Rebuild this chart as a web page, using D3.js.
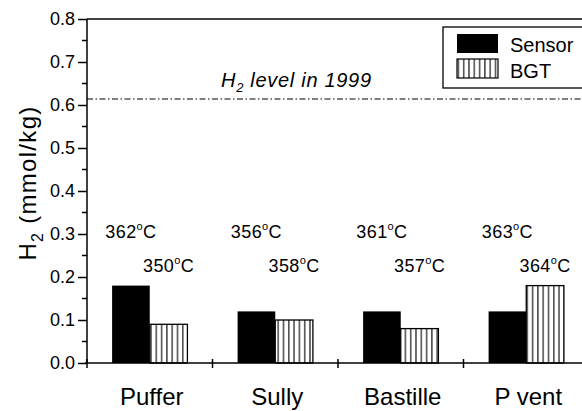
<!DOCTYPE html>
<html>
<head>
<meta charset="utf-8">
<script src="https://cdn.jsdelivr.net/npm/d3@7"></script>
<style>
  body { margin: 0; background: #fff; }
  svg { display: block; font-family: Arial, "Liberation Sans", sans-serif; }
</style>
</head>
<body>
<svg id="chart" width="582" height="411"></svg>
<script>
const categories = ["Puffer", "Sully", "Bastille", "P vent"];
const sensor = [0.18, 0.12, 0.12, 0.12];
const bgt = [0.09, 0.10, 0.08, 0.18];
const sensorTemp = [362, 356, 361, 363];
const bgtTemp = [350, 358, 357, 364];
const level1999 = 0.614;
const yTicks = [0, 0.1, 0.2, 0.3, 0.4, 0.5, 0.6, 0.7, 0.8];

const svg = d3.select("#chart");
const mLeft = 87, mRight = 589, mTop = 19, mBottom = 363;

const x = d3.scaleBand().domain(categories).range([mLeft, mRight]).paddingInner(0).paddingOuter(0);
const xb = d3.scaleLinear().domain([0, 4]).range([mLeft, mRight]);
const y = d3.scaleLinear().domain([0, 0.8]).range([mBottom, mTop]);
const bw = x.bandwidth() * 0.3;

// vertical hatch for BGT
const defs = svg.append("defs");
defs.append("pattern")
    .attr("id", "vhatch")
    .attr("patternUnits", "userSpaceOnUse")
    .attr("width", 5.3).attr("height", 10)
    .append("line")
    .attr("x1", 2.6).attr("x2", 2.6).attr("y1", 0).attr("y2", 10)
    .attr("stroke", "#000").attr("stroke-width", 1.1);

// bars
const g = svg.append("g");
categories.forEach(function(c, i) {
    const cx = x(c) + x.bandwidth() / 2;
    g.append("rect")
        .attr("x", cx - bw).attr("y", y(sensor[i]))
        .attr("width", bw).attr("height", y(0) - y(sensor[i]))
        .attr("fill", "#000");
    g.append("rect")
        .attr("x", cx).attr("y", y(bgt[i]))
        .attr("width", bw).attr("height", y(0) - y(bgt[i]))
        .attr("fill", "#fff");
    g.append("rect")
        .attr("x", cx).attr("y", y(bgt[i]))
        .attr("width", bw).attr("height", y(0) - y(bgt[i]))
        .attr("fill", "url(#vhatch)")
        .attr("stroke", "#000").attr("stroke-width", 1.3);

    // temperature labels
    const t1 = g.append("text")
        .attr("x", cx - bw / 2).attr("y", y(0.29))
        .attr("text-anchor", "middle").attr("font-size", 18)
        .attr("letter-spacing", 0.4);
    t1.append("tspan").text(sensorTemp[i]);
    t1.append("tspan").attr("font-size", 11).attr("dy", -8).text("o");
    t1.append("tspan").attr("dy", 8).text("C");

    const t2 = g.append("text")
        .attr("x", cx + bw / 2).attr("y", y(0.212))
        .attr("text-anchor", "middle").attr("font-size", 18)
        .attr("letter-spacing", 0.4);
    t2.append("tspan").text(bgtTemp[i]);
    t2.append("tspan").attr("font-size", 11).attr("dy", -8).text("o");
    t2.append("tspan").attr("dy", 8).text("C");
});

// 1999 level line
svg.append("line")
    .attr("x1", mLeft).attr("x2", 582)
    .attr("y1", y(level1999)).attr("y2", y(level1999))
    .attr("stroke", "#000").attr("stroke-width", 1.2)
    .attr("stroke-dasharray", "6,2.5,1.5,2.5");

const ann = svg.append("text")
    .attr("x", 221).attr("y", 87)
    .attr("font-size", 20).attr("font-style", "italic")
    .attr("letter-spacing", 0.7);
ann.append("tspan").text("H");
ann.append("tspan").attr("font-size", 13).attr("dy", 5).text("2");
ann.append("tspan").attr("dy", -5).text(" level in 1999");

// top frame
svg.append("line")
    .attr("x1", mLeft).attr("x2", 582).attr("y1", mTop).attr("y2", mTop)
    .attr("stroke", "#000").attr("stroke-width", 1.5);

// y axis
const yAxis = svg.append("g")
    .attr("transform", "translate(" + mLeft + ",0)")
    .call(d3.axisLeft(y).tickValues(yTicks).tickFormat(d3.format(".1f")).tickSize(9).tickPadding(3));
yAxis.select(".domain").attr("stroke-width", 1.5).attr("d", "M0," + mTop + "V" + mBottom);
yAxis.selectAll(".tick line").attr("stroke-width", 1.5);
yAxis.selectAll(".tick text").attr("font-size", 18).attr("font-family", "Arial, 'Liberation Sans', sans-serif").attr("fill", "#000");

// minor ticks
svg.append("g").selectAll("line")
    .data(d3.range(0.05, 0.8, 0.1))
    .join("line")
    .attr("x1", mLeft - 5).attr("x2", mLeft)
    .attr("y1", d => y(d)).attr("y2", d => y(d))
    .attr("stroke", "#000").attr("stroke-width", 1.5);

// x axis
svg.append("line")
    .attr("x1", mLeft - 2).attr("x2", 582).attr("y1", mBottom).attr("y2", mBottom)
    .attr("stroke", "#000").attr("stroke-width", 1.5);
svg.append("g").selectAll("line")
    .data([0, 1, 2, 3])
    .join("line")
    .attr("x1", d => xb(d)).attr("x2", d => xb(d))
    .attr("y1", mBottom - 4).attr("y2", mBottom + 5)
    .attr("stroke", "#000").attr("stroke-width", 1.5);

svg.append("g").selectAll("text")
    .data(categories)
    .join("text")
    .attr("x", d => x(d) + x.bandwidth() / 2 + 2)
    .attr("y", 405)
    .attr("text-anchor", "middle")
    .attr("font-size", 24)
    .text(d => d);

// y title
const yt = svg.append("text")
    .attr("transform", "translate(36,183) rotate(-90)")
    .attr("text-anchor", "middle")
    .attr("font-size", 24)
    .attr("letter-spacing", 1.3);
yt.append("tspan").text("H");
yt.append("tspan").attr("font-size", 16).attr("dy", 7).text("2");
yt.append("tspan").attr("dy", -7).text(" (mmol/kg)");

// legend
const lg = svg.append("g");
lg.append("rect")
    .attr("x", 443).attr("y", 27).attr("width", 160).attr("height", 61)
    .attr("fill", "#fff").attr("stroke", "#000").attr("stroke-width", 1.3);
lg.append("rect")
    .attr("x", 457).attr("y", 34).attr("width", 41).attr("height", 19)
    .attr("fill", "#000");
lg.append("rect")
    .attr("x", 457).attr("y", 59).attr("width", 41).attr("height", 19)
    .attr("fill", "url(#vhatch)").attr("stroke", "#000").attr("stroke-width", 1.2);
lg.append("text").attr("x", 510).attr("y", 52).attr("font-size", 20).text("Sensor");
lg.append("text").attr("x", 510).attr("y", 78).attr("font-size", 20).text("BGT");
</script>
</body>
</html>
